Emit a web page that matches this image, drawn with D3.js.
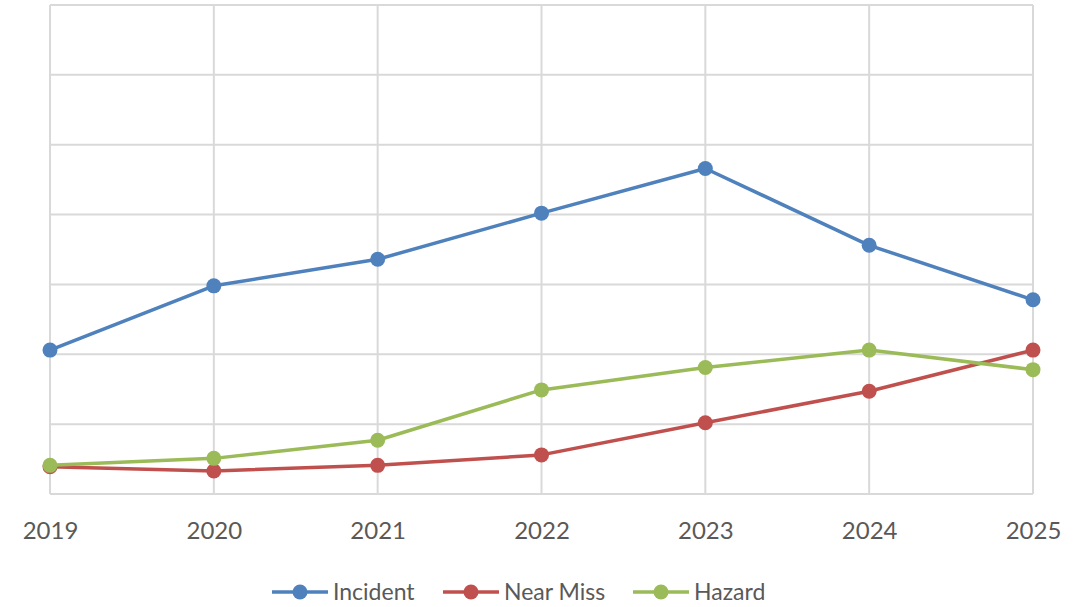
<!DOCTYPE html>
<html>
<head>
<meta charset="utf-8">
<script src="https://cdn.jsdelivr.net/npm/d3@7"></script>
<style>
  html, body { margin: 0; padding: 0; background: #fff; }
  svg { display: block; }
  text { font-family: Lato, "Open Sans", "Noto Sans", sans-serif; fill: #595959; }
</style>
</head>
<body>
<svg id="chart" width="1089" height="607"></svg>
<script>
// Yearly counts per report type
const years = ["2019", "2020", "2021", "2022", "2023", "2024", "2025"];
const incident = [20.6, 29.8, 33.6, 40.2, 46.6, 35.6, 27.8];
const nearMiss = [3.9, 3.3, 4.1, 5.6, 10.2, 14.7, 20.6];
const hazard = [4.1, 5.1, 7.7, 14.9, 18.1, 20.6, 17.8];
const seriesNames = ["Incident", "Near Miss", "Hazard"];
const seriesColors = ["#4F81BD", "#C0504D", "#9BBB59"];
const yTicks = [0, 10, 20, 30, 40, 50, 60, 70];

const series = [incident, nearMiss, hazard].map((vals, i) => ({
  name: seriesNames[i],
  color: seriesColors[i],
  values: vals.map((v, j) => ({ year: years[j], value: v }))
}));

const svg = d3.select("#chart");
const margin = { left: 50, right: 56, top: 5, bottom: 113 };
const W = 1089, H = 607;

const x = d3.scalePoint().domain(years).range([margin.left, W - margin.right]);
const y = d3.scaleLinear().domain([0, 70]).range([H - margin.bottom, margin.top]);

const grid = svg.append("g").attr("class", "grid");
// horizontal gridlines
grid.selectAll("line.h").data(yTicks).join("line")
  .attr("class", "h")
  .attr("x1", x.range()[0]).attr("x2", x.range()[1])
  .attr("y1", d => y(d)).attr("y2", d => y(d))
  .attr("stroke", "#d9d9d9").attr("stroke-width", 2);
// vertical gridlines
grid.selectAll("line.v").data(years).join("line")
  .attr("class", "v")
  .attr("x1", d => x(d)).attr("x2", d => x(d))
  .attr("y1", y(0)).attr("y2", y(70))
  .attr("stroke", "#d9d9d9").attr("stroke-width", 2);

// x axis labels
const xAxis = svg.append("g")
  .attr("transform", `translate(0,${y(0)})`)
  .call(d3.axisBottom(x).tickSize(0).tickPadding(0));
xAxis.select(".domain").remove();
xAxis.selectAll("text")
  .attr("y", 45).attr("dy", null)
  .style("font-size", "24px").attr("fill", "#595959");

const line = d3.line().x(d => x(d.year)).y(d => y(d.value));

const sg = svg.selectAll("g.series").data(series).join("g").attr("class", "series");
sg.append("path")
  .attr("d", d => line(d.values))
  .attr("fill", "none")
  .attr("stroke", d => d.color)
  .attr("stroke-width", 3.5)
  .attr("stroke-linejoin", "round");
sg.selectAll("circle").data(d => d.values.map(v => ({ ...v, color: d.color }))).join("circle")
  .attr("cx", d => x(d.year))
  .attr("cy", d => y(d.value))
  .attr("r", 7.5)
  .attr("fill", d => d.color);

// legend
const legendX = [272, 443, 633];
const lg = svg.append("g").attr("transform", "translate(0,592)");
const items = lg.selectAll("g").data(series).join("g")
  .attr("transform", (d, i) => `translate(${legendX[i]},0)`);
items.append("line")
  .attr("x1", 0).attr("x2", 56).attr("y1", 0).attr("y2", 0)
  .attr("stroke", d => d.color).attr("stroke-width", 3.5);
items.append("circle").attr("cx", 28).attr("cy", 0).attr("r", 7.5).attr("fill", d => d.color);
items.append("text")
  .attr("x", 61).attr("y", 0).attr("dy", "0.36em")
  .style("font-size", "23px")
  .text(d => d.name);
</script>
</body>
</html>
